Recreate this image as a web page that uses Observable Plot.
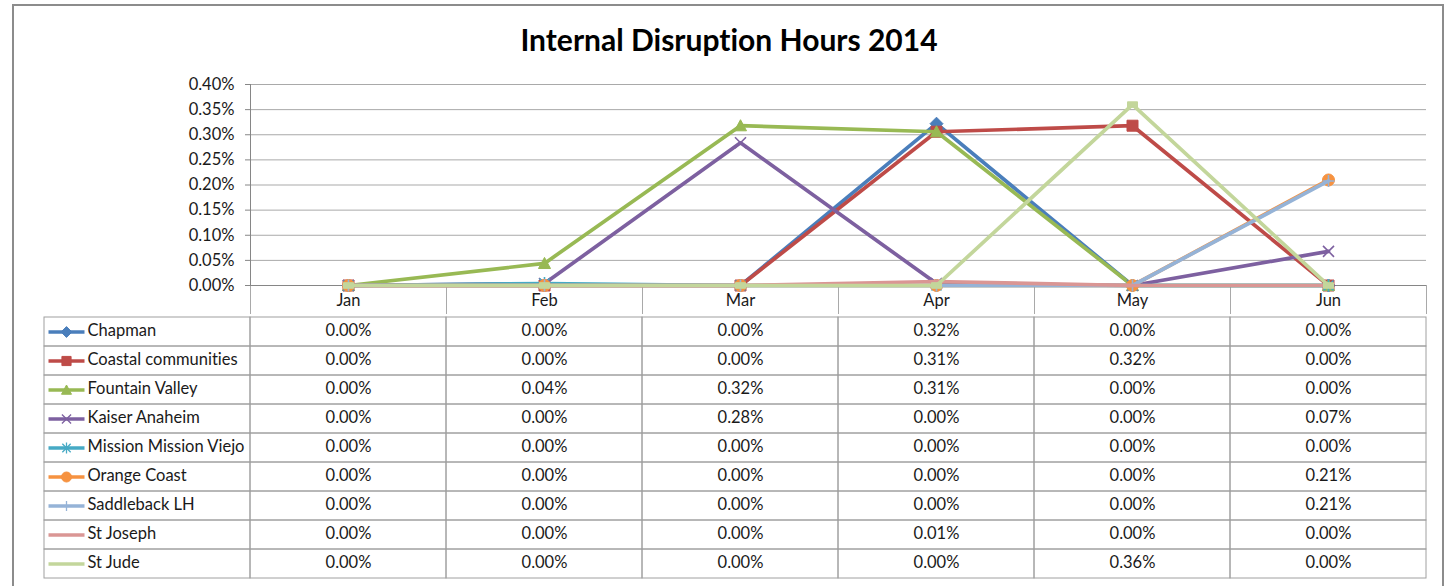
<!DOCTYPE html>
<html>
<head>
<meta charset="utf-8">
<script src="https://cdn.jsdelivr.net/npm/d3@7"></script>
<script src="https://cdn.jsdelivr.net/npm/@observablehq/plot@0.6"></script>
<style>
  html, body { margin: 0; padding: 0; background: #fff; }
  body { width: 1445px; height: 586px; overflow: hidden; position: relative; font-family: Lato, sans-serif; font-variant-ligatures: none; }
  svg text { font-variant-ligatures: none; }
  #frame { position: absolute; left: 12px; top: 4px; width: 1432px; height: 700px; border: 2px solid #8c8c8c; box-sizing: border-box; pointer-events: none; z-index: 5; }
  #title { position: absolute; left: 0; width: 1458px; top: 21px; text-align: center; font: bold 30px Lato, sans-serif; color: #000; font-variant-ligatures: none; }
  #chart { position: absolute; left: 0; top: 0; }
  #table { position: absolute; left: 0; top: 313px; }
</style>
</head>
<body>
<div id="title">Internal Disruption Hours 2014</div>
<div id="chart"></div>
<div id="table"></div>
<div id="frame"></div>
<script>
// ---- data ----
const months = ["Jan", "Feb", "Mar", "Apr", "May", "Jun"];
const seriesNames = ["Chapman", "Coastal communities", "Fountain Valley", "Kaiser Anaheim",
  "Mission Mission Viejo", "Orange Coast", "Saddleback LH", "St Joseph", "St Jude"];
const chapman            = [0, 0,       0,       0.00322, 0,       0];
const coastalCommunities = [0, 0,       0,       0.00306, 0.00318, 0];
const fountainValley     = [0, 0.00044, 0.00318, 0.00306, 0,       0];
const kaiserAnaheim      = [0, 0.00004, 0.00284, 0.00004, 0,       0.00068];
const missionViejo       = [0, 0.00004, 0,       0,       0,       0];
const orangeCoast        = [0, 0,       0,       0,       0,       0.00210];
const saddlebackLH       = [0, 0,       0,       0,       0,       0.00208];
const stJoseph           = [0, 0,       0,       0.00008, 0,       0];
const stJude             = [0, 0,       0,       0,       0.00360, 0];
const yTicks = [0, 0.0005, 0.001, 0.0015, 0.002, 0.0025, 0.003, 0.0035, 0.004];

const seriesValues = [chapman, coastalCommunities, fountainValley, kaiserAnaheim,
  missionViejo, orangeCoast, saddlebackLH, stJoseph, stJude];

// ---- styles ----
const colors = ["#4A7EBB", "#BE4B48", "#98B954", "#7D60A0", "#46AAC5", "#F69240", "#95B3D7", "#DA9694", "#C3D69B"];
const k = size => Math.sqrt(size / Math.PI) / 6;
const sym = {
  diamond: {draw(c, s) { const r = 6.5 * k(s); c.moveTo(0, -r); c.lineTo(r, 0); c.lineTo(0, r); c.lineTo(-r, 0); c.closePath(); }},
  square: {draw(c, s) { const r = 5.5 * k(s); c.rect(-r, -r, 2 * r, 2 * r); }},
  triangle: {draw(c, s) { const r = 6 * k(s); c.moveTo(0, -r); c.lineTo(r, r * 0.85); c.lineTo(-r, r * 0.85); c.closePath(); }},
  times: {draw(c, s) { const r = 5.5 * k(s); c.moveTo(-r, -r); c.lineTo(r, r); c.moveTo(r, -r); c.lineTo(-r, r); }},
  star: {draw(c, s) { const r = 5 * k(s); c.moveTo(-r, -r); c.lineTo(r, r); c.moveTo(r, -r); c.lineTo(-r, r); c.moveTo(0, -r * 1.3); c.lineTo(0, r * 1.3); }},
  circle: {draw(c, s) { const r = 6 * k(s); c.moveTo(r, 0); c.arc(0, 0, r, 0, 2 * Math.PI); }},
  plus: {draw(c, s) { const r = 6 * k(s); c.moveTo(-r, 0); c.lineTo(r, 0); c.moveTo(0, -r); c.lineTo(0, r); }},
  dash: {draw(c, s) { const w = 5 * k(s), h = 2.8 * k(s); c.rect(-w, -h, 2 * w, 2 * h); }},
  swatch: {draw(c) { c.moveTo(-18, 0); c.lineTo(18, 0); }}
};
const markers = [
  {symbol: sym.diamond, filled: true},
  {symbol: sym.square, filled: true},
  {symbol: sym.triangle, filled: true},
  {symbol: sym.times, filled: false},
  {symbol: sym.star, filled: false},
  {symbol: sym.circle, filled: true},
  {symbol: sym.plus, filled: false},
  null,
  {symbol: sym.dash, filled: true}
];

const rows = seriesNames.flatMap((s, si) => seriesValues[si].map((v, mi) => ({series: s, si, mi, month: months[mi], value: v})));
const fmt = d3.format(".2%");
const baseStyle = {fontFamily: "Lato, sans-serif", fontSize: "16.5px", background: "transparent", overflow: "visible", color: "#1a1a1a"};

// ---- chart ----
const seriesMarks = seriesNames.flatMap((s, si) => {
  const data = rows.filter(d => d.si === si);
  const m = [Plot.line(data, {x: d => d.mi + 0.5, y: "value", stroke: colors[si], strokeWidth: 3.7, strokeLinejoin: "round"})];
  const mk = markers[si];
  if (mk) m.push(Plot.dot(data, {x: d => d.mi + 0.5, y: "value", r: 6, symbol: mk.symbol,
    fill: mk.filled ? colors[si] : "none", stroke: colors[si], strokeWidth: mk.filled ? 1 : 1.6}));
  return m;
});

const chart = Plot.plot({
  width: 1445, height: 314,
  marginLeft: 250, marginRight: 19, marginTop: 84, marginBottom: 29,
  style: baseStyle,
  x: {type: "linear", domain: [0, months.length], axis: null},
  y: {type: "linear", domain: [0, 0.004], axis: null},
  marks: [
    Plot.gridY(yTicks, {stroke: "#a9a9a9", strokeOpacity: 1}),
    Plot.axisY(yTicks, {tickFormat: fmt, tickSize: 5, tickPadding: 11, stroke: "#868686", fill: "#1a1a1a", label: null}),
    Plot.axisX(d3.range(months.length + 1), {tickSize: 29, tickFormat: () => "", stroke: "#a9a9a9", label: null}),
    Plot.axisX(months.map((m, i) => i + 0.5), {tickSize: 0, tickPadding: 9, tickFormat: d => months[Math.floor(d)], fill: "#1a1a1a", label: null}),
    Plot.ruleY([0], {stroke: "#868686"}),
    Plot.ruleX([0], {stroke: "#868686"}),
    ...seriesMarks
  ]
});
document.getElementById("chart").append(chart);

// ---- data table ----
const swatchMarks = seriesNames.flatMap((s, si) => {
  const m = [Plot.dot([s], {x: 0, y: d => d, dx: -184, r: 4, symbol: sym.swatch, stroke: colors[si], strokeWidth: 3.7, fill: "none"})];
  const mk = markers[si];
  if (mk && si !== 8) m.push(Plot.dot([s], {x: 0, y: d => d, dx: -184, r: 5, symbol: mk.symbol,
    fill: mk.filled ? colors[si] : "none", stroke: colors[si], strokeWidth: mk.filled ? 1 : 1.3}));
  return m;
});

const table = Plot.plot({
  width: 1445, height: 273,
  style: baseStyle,
  x: {type: "linear", domain: [0, months.length], range: [250, 1426], axis: null},
  y: {type: "band", domain: seriesNames, range: [1, 268.5], padding: 0, axis: null},
  marks: [
    Plot.barX(rows, {x1: d => d.mi, x2: d => d.mi + 1, y: "series", fill: "none", stroke: "#a0a0a0", strokeWidth: 1}),
    Plot.barX(seriesNames, {x1: 0, x2: 0, y: d => d, insetLeft: -206, fill: "none", stroke: "#a0a0a0", strokeWidth: 1}),
    Plot.text(rows, {x: d => d.mi + 0.5, y: "series", dy: -1, text: d => fmt(d.value), fill: "#1a1a1a"}),
    ...swatchMarks,
    Plot.text(seriesNames, {x: 0, y: d => d, dx: -163, dy: -1, text: d => d, textAnchor: "start", fill: "#1a1a1a"})
  ]
});
document.getElementById("table").append(table);
</script>
</body>
</html>
